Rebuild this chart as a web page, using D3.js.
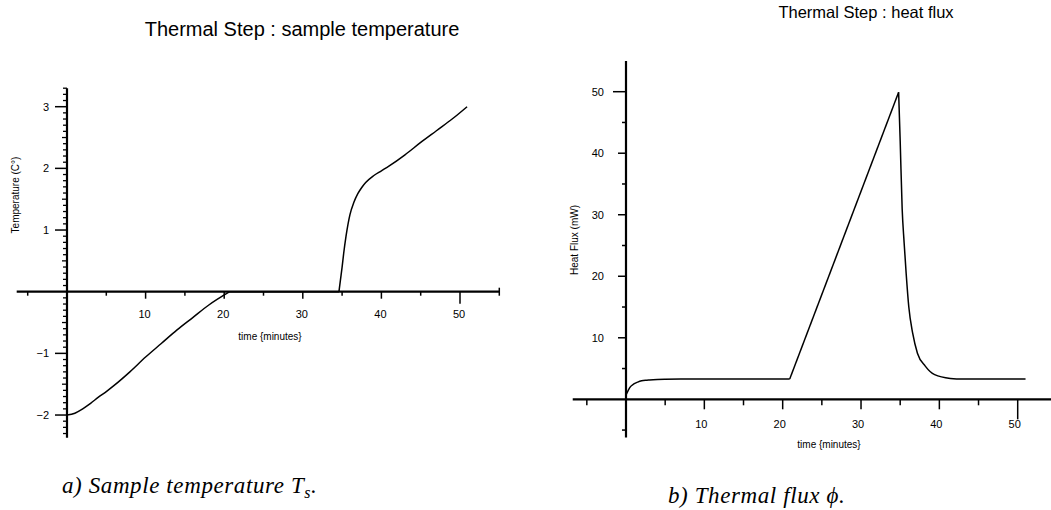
<!DOCTYPE html>
<html>
<head>
<meta charset="utf-8">
<script src="https://cdn.jsdelivr.net/npm/d3@7"></script>
<style>
  html, body { margin: 0; padding: 0; background: #fff; }
  svg { display: block; }
  text { font-family: "Liberation Sans", Arial, sans-serif; fill: #000; }
  text.cap { font-family: "Liberation Serif", "Times New Roman", serif; font-style: italic; }
</style>
</head>
<body>
<svg id="chart" width="1051" height="510"></svg>
<script>
// ---------- DATA ----------
// Panel a) sample temperature (°C) vs time (minutes)
const tempTime  = [0, 1, 2, 3, 4, 5, 6, 8, 10, 12, 14, 16, 18, 20.7, 34.6, 34.8, 35, 35.2, 35.5, 36, 36.5, 37, 37.5, 38, 39, 40, 41, 43, 45, 47, 49, 50.9];
const tempValue = [-2, -1.97, -1.9, -1.81, -1.71, -1.62, -1.52, -1.3, -1.06, -0.84, -0.62, -0.42, -0.22, 0, 0, 0.2, 0.4, 0.62, 0.9, 1.25, 1.45, 1.59, 1.69, 1.77, 1.88, 1.96, 2.04, 2.22, 2.42, 2.61, 2.8, 3.0];
// Panel b) heat flux (mW) vs time (minutes)
const fluxTime  = [0, 0.3, 0.6, 1, 1.5, 2, 2.5, 3, 4, 5, 7, 10, 15, 20.9, 34.8, 35.0, 35.25, 35.5, 35.76, 36.1, 36.6, 37.2, 38.2, 39.4, 41.4, 43, 51];
const fluxValue = [0.7, 1.5, 2.1, 2.5, 2.8, 3.0, 3.1, 3.15, 3.22, 3.26, 3.3, 3.3, 3.3, 3.3, 49.9, 42, 31, 25.5, 20.5, 15, 10.7, 7.5, 5.4, 4.0, 3.4, 3.3, 3.3];

const timeTicks = [10, 20, 30, 40, 50];
const tempTicks = [-2, -1, 1, 2, 3];
const fluxTicks = [10, 20, 30, 40, 50];

const titleA = "Thermal Step : sample temperature";
const titleB = "Thermal Step : heat flux";
const xLabel = "time {minutes}";
const yLabelA = "Temperature (C°)";
const yLabelB = "Heat Flux (mW)";

// ---------- DRAW ----------
const svg = d3.select("#chart");

function tickFmt(v) { return v < 0 ? "\u2212" + Math.abs(v) : String(v); }

// smooth segments except at the sharp corners (indices listed)
function piecewisePath(g, pts, x, y, corners) {
  const bounds = [0, ...corners, pts.length - 1];
  for (let k = 0; k < bounds.length - 1; k++) {
    const seg = pts.slice(bounds[k], bounds[k + 1] + 1);
    const line = d3.line().x(d => x(d[0])).y(d => y(d[1]))
      .curve(seg.length > 2 ? d3.curveMonotoneX : d3.curveLinear);
    g.append("path").datum(seg).attr("d", line).attr("fill", "none")
      .attr("stroke", "#000").attr("stroke-width", 1.5).attr("stroke-linejoin", "miter");
  }
}

// Panel a
(function () {
  const x = d3.scaleLinear().domain([0, 50]).range([67, 460]);
  const y = d3.scaleLinear().domain([0, 3]).range([291.7, 106.7]);
  const g = svg.append("g");

  g.append("line").attr("x1", x(-6.4)).attr("x2", x(55)).attr("y1", y(0)).attr("y2", y(0))
    .attr("stroke", "#000").attr("stroke-width", 2.2);
  d3.range(-5, 56, 5).forEach(t => {
    let len = (t % 10 === 0) ? 7 : 4;
    if (t === 50) len = 12;
    let up = (t === 55) ? -4 : 0;
    g.append("line").attr("x1", x(t)).attr("x2", x(t)).attr("y1", y(0) + up).attr("y2", y(0) + len)
      .attr("stroke", "#000").attr("stroke-width", 1.5);
  });
  g.selectAll(".xl").data(timeTicks).enter().append("text")
    .attr("x", d => x(d) - 1).attr("y", y(0) + 26).attr("text-anchor", "middle")
    .attr("font-size", 11).text(tickFmt);
  g.append("text").attr("x", 270).attr("y", 340).attr("text-anchor", "middle")
    .attr("font-size", 10).text(xLabel);

  g.append("line").attr("x1", x(0)).attr("x2", x(0)).attr("y1", y(3.3)).attr("y2", y(-2.37))
    .attr("stroke", "#000").attr("stroke-width", 2.2);
  d3.range(-23, 34, 1).forEach(i => {
    const v = i / 10;
    if (i % 10 === 0) return;
    const len = (i % 5 === 0) ? 5 : 4;
    g.append("line").attr("x1", x(0) - len).attr("x2", x(0)).attr("y1", y(v)).attr("y2", y(v))
      .attr("stroke", "#000").attr("stroke-width", 1.3);
  });
  d3.range(-2, 4, 1).forEach(v => {
    if (v === 0) return;
    g.append("line").attr("x1", x(0) - 12).attr("x2", x(0)).attr("y1", y(v)).attr("y2", y(v))
      .attr("stroke", "#000").attr("stroke-width", 1.5);
  });
  g.selectAll(".yl").data(tempTicks).enter().append("text")
    .attr("x", x(0) - 18).attr("y", d => y(d) + 4).attr("text-anchor", "end")
    .attr("font-size", 11).text(tickFmt);
  g.append("text").attr("transform", `translate(19,${195}) rotate(-90)`).attr("text-anchor", "middle")
    .attr("font-size", 10).text(yLabelA);

  const pts = tempTime.map((t, i) => [t, tempValue[i]]);
  piecewisePath(g, pts, x, y, [13, 14]);

  g.append("text").attr("x", 302).attr("y", 36).attr("text-anchor", "middle")
    .attr("font-size", 20).text(titleA);
})();

// Panel b
(function () {
  const x = d3.scaleLinear().domain([0, 50]).range([626, 1017.7]);
  const y = d3.scaleLinear().domain([0, 50]).range([399.3, 91.7]);
  const g = svg.append("g");

  g.append("line").attr("x1", x(-6.8)).attr("x2", 1051).attr("y1", y(0)).attr("y2", y(0))
    .attr("stroke", "#000").attr("stroke-width", 2.2);
  d3.range(-5, 51, 5).forEach(t => {
    let len = (t % 10 === 0) ? 10 : 6;
    if (t === 50) len = 20;
    g.append("line").attr("x1", x(t)).attr("x2", x(t)).attr("y1", y(0)).attr("y2", y(0) + len)
      .attr("stroke", "#000").attr("stroke-width", 1.5);
  });
  g.selectAll(".xl").data(timeTicks).enter().append("text")
    .attr("x", d => x(d) - 3).attr("y", y(0) + 29).attr("text-anchor", "middle")
    .attr("font-size", 11).text(tickFmt);
  g.append("text").attr("x", 829).attr("y", 448).attr("text-anchor", "middle")
    .attr("font-size", 10).text(xLabel);

  g.append("line").attr("x1", x(0)).attr("x2", x(0)).attr("y1", y(55)).attr("y2", y(-6.2))
    .attr("stroke", "#000").attr("stroke-width", 2.2);
  d3.range(-5, 51, 5).forEach(v => {
    if (v === 0) return;
    let len = (v % 10 === 0) ? 8 : 4;
    if (v === 50) len = 13;
    g.append("line").attr("x1", x(0) - len).attr("x2", x(0)).attr("y1", y(v)).attr("y2", y(v))
      .attr("stroke", "#000").attr("stroke-width", 1.5);
  });
  g.selectAll(".yl").data(fluxTicks).enter().append("text")
    .attr("x", x(0) - 22).attr("y", d => y(d) + 4).attr("text-anchor", "end")
    .attr("font-size", 11).text(tickFmt);
  g.append("text").attr("transform", `translate(578,${240}) rotate(-90)`).attr("text-anchor", "middle")
    .attr("font-size", 10).text(yLabelB);

  const pts = fluxTime.map((t, i) => [t, fluxValue[i]]);
  piecewisePath(g, pts, x, y, [13, 14]);

  g.append("text").attr("x", 866).attr("y", 18).attr("text-anchor", "middle")
    .attr("font-size", 16.5).text(titleB);
})();

// Captions
const capA = svg.append("text").attr("class", "cap").attr("x", 62).attr("y", 493)
  .attr("font-size", 23).attr("letter-spacing", 0.6);
capA.append("tspan").text("a) Sample temperature T");
capA.append("tspan").attr("dy", 5).attr("font-size", 16).text("s");
capA.append("tspan").attr("dy", -5).text(".");

svg.append("text").attr("class", "cap").attr("x", 668).attr("y", 503)
  .attr("font-size", 23).attr("letter-spacing", 0.6).text("b) Thermal flux \u03d5.");
</script>
</body>
</html>
